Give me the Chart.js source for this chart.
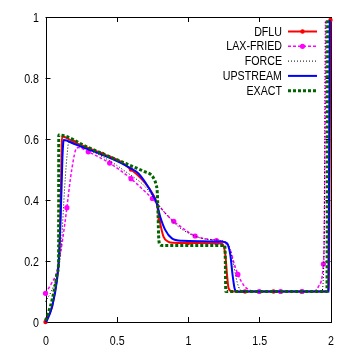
<!DOCTYPE html>
<html>
<head>
<meta charset="utf-8">
<script src="https://cdn.jsdelivr.net/npm/chart.js@4.4.0/dist/chart.umd.min.js"></script>
<style>
  html, body { margin: 0; padding: 0; background: #fff; }
  #wrap { width: 354px; height: 354px; }
</style>
</head>
<body>
<div id="wrap"><canvas id="chart"></canvas></div>
<script>
// Riemann problem: numerical schemes vs exact solution

// Axis ticks
const xTicks = [0, 0.5, 1, 1.5, 2];
const yTicks = [0, 0.2, 0.4, 0.6, 0.8, 1];

// DFLU (markers every 0.2)
const dfluX = [0, 0.02, 0.046, 0.07, 0.085, 0.095, 0.103, 0.109, 0.113, 0.116, 0.2, 0.3, 0.4, 0.512, 0.6, 0.65, 0.7, 0.746, 0.78, 0.8, 0.828, 0.863, 0.9, 1.0, 1.2, 1.24, 1.262, 1.274, 1.285, 1.309, 1.4, 1.6, 1.8, 1.985, 1.99, 1.995, 2.0];
const dfluY = [0, 0.02, 0.05, 0.11, 0.16, 0.21, 0.32, 0.45, 0.56, 0.608, 0.59, 0.571, 0.551, 0.53, 0.5, 0.48, 0.455, 0.425, 0.39, 0.335, 0.28, 0.263, 0.26, 0.259, 0.258, 0.257, 0.22, 0.154, 0.11, 0.1, 0.1, 0.1, 0.1, 0.1, 0.2, 0.6, 0.99];

// LAX-FRIED (markers every 0.15)
const laxX = [0, 0.04, 0.08, 0.11, 0.135, 0.15, 0.175, 0.195, 0.21, 0.23, 0.3, 0.45, 0.6, 0.65, 0.7, 0.75, 0.78, 0.85, 0.9, 0.98, 1.05, 1.17, 1.2, 1.25, 1.275, 1.3, 1.32, 1.35, 1.39, 1.43, 1.5, 1.65, 1.8, 1.88, 1.915, 1.95, 1.955, 1.96, 1.968];
const laxY = [0.094, 0.125, 0.165, 0.24, 0.32, 0.375, 0.47, 0.53, 0.562, 0.572, 0.558, 0.521, 0.47, 0.449, 0.427, 0.405, 0.39, 0.352, 0.33, 0.302, 0.282, 0.269, 0.267, 0.263, 0.252, 0.232, 0.198, 0.156, 0.121, 0.105, 0.1, 0.1, 0.1, 0.1, 0.116, 0.19, 0.26, 0.5, 0.99];

// FORCE
const forceX = [0, 0.04, 0.08, 0.1, 0.115, 0.128, 0.14, 0.152, 0.163, 0.2, 0.3, 0.4, 0.489, 0.55, 0.63, 0.688, 0.74, 0.793, 0.863, 0.934, 1.004, 1.098, 1.239, 1.26, 1.285, 1.32, 1.344, 1.367, 1.4, 1.938, 1.95, 1.958, 1.963];
const forceY = [0.067, 0.1, 0.15, 0.2, 0.28, 0.39, 0.48, 0.55, 0.59, 0.584, 0.565, 0.542, 0.517, 0.497, 0.471, 0.449, 0.42, 0.384, 0.345, 0.312, 0.291, 0.274, 0.266, 0.262, 0.252, 0.187, 0.132, 0.105, 0.1, 0.1, 0.15, 0.4, 0.99];

// UPSTREAM
const upX = [0, 0.01, 0.046, 0.081, 0.093, 0.103, 0.112, 0.119, 0.124, 0.128, 0.2, 0.3, 0.4, 0.535, 0.6, 0.652, 0.7, 0.746, 0.78, 0.805, 0.84, 0.887, 0.957, 1.1, 1.239, 1.274, 1.297, 1.313, 1.327, 1.344, 1.4, 1.985, 1.99, 1.995];
const upY = [0, 0.005, 0.05, 0.138, 0.2, 0.3, 0.43, 0.54, 0.585, 0.597, 0.584, 0.566, 0.548, 0.52, 0.503, 0.487, 0.458, 0.422, 0.39, 0.345, 0.302, 0.274, 0.266, 0.265, 0.263, 0.258, 0.22, 0.154, 0.11, 0.099, 0.1, 0.1, 0.5, 0.99];

// EXACT
const exactX = [0, 0.02, 0.046, 0.07, 0.085, 0.092, 0.093, 0.3, 0.5, 0.7, 0.74, 0.758, 0.775, 0.785, 0.79, 0.795, 0.805, 0.82, 1.258, 1.262, 1.265, 1.975, 1.978, 1.98];
const exactY = [0.005, 0.03, 0.072, 0.125, 0.165, 0.2, 0.613, 0.572, 0.532, 0.492, 0.483, 0.472, 0.452, 0.42, 0.35, 0.27, 0.253, 0.251, 0.251, 0.2, 0.1, 0.1, 0.5, 0.99];

const FONT = "13px 'Liberation Sans', Arial, sans-serif";
const SQUEEZE = 0.82;   // gnuplot's narrow helvetica

function toPoints(xs, ys) {
  return xs.map((x, i) => ({ x: x, y: ys[i] }));
}

// marker only on every `step` of x
function markEvery(step, r) {
  return ctx => {
    const raw = ctx.raw;
    if (!raw) return 0;
    const k = raw.x / step;
    return Math.abs(k - Math.round(k)) < 1e-6 ? r : 0;
  };
}

// draw text squeezed horizontally, anchored at (x, y)
function narrowText(ctx, str, x, y, align) {
  ctx.save();
  ctx.translate(x, y);
  ctx.scale(SQUEEZE, 1);
  ctx.textAlign = align;
  ctx.fillText(str, 0, 0);
  ctx.restore();
}

const series = [
  { label: 'DFLU', data: toPoints(dfluX, dfluY), color: '#ff0000', width: 2, dash: [], mark: markEvery(0.2, 2.2), markR: 2.2, order: 5 },
  { label: 'LAX-FRIED', data: toPoints(laxX, laxY), color: '#ff00ff', width: 1.5, dash: [3, 2], mark: markEvery(0.15, 2.6), markR: 2.6, order: 4 },
  { label: 'FORCE', data: toPoints(forceX, forceY), color: '#000000', width: 1, dash: [1, 2], mark: 0, markR: 0, order: 3 },
  { label: 'UPSTREAM', data: toPoints(upX, upY), color: '#0000ff', width: 2, dash: [], mark: 0, markR: 0, order: 2 },
  { label: 'EXACT', data: toPoints(exactX, exactY), color: '#006400', width: 3, dash: [3, 2], mark: 0, markR: 0, order: 1 }
];

// Frame, inward ticks on all sides, tick labels
const framePlugin = {
  id: 'framePlugin',
  beforeDatasetsDraw(chart) {
    const { ctx, chartArea: a, scales } = chart;
    ctx.save();
    ctx.strokeStyle = '#000';
    ctx.lineWidth = 1;
    ctx.beginPath();
    xTicks.forEach(v => {
      const px = Math.round(scales.x.getPixelForValue(v)) + 0.5;
      ctx.moveTo(px, a.bottom); ctx.lineTo(px, a.bottom - 5);
      ctx.moveTo(px, a.top); ctx.lineTo(px, a.top + 5);
    });
    yTicks.forEach(v => {
      const py = Math.round(scales.y.getPixelForValue(v)) + 0.5;
      ctx.moveTo(a.left, py); ctx.lineTo(a.left + 5, py);
      ctx.moveTo(a.right, py); ctx.lineTo(a.right - 5, py);
    });
    ctx.stroke();
    ctx.strokeRect(Math.round(a.left) + 0.5, Math.round(a.top) + 0.5,
      Math.round(a.right - a.left), Math.round(a.bottom - a.top));

    ctx.fillStyle = '#000';
    ctx.font = FONT;
    ctx.textBaseline = 'middle';
    yTicks.forEach(v => {
      narrowText(ctx, String(v), a.left - 6.5, scales.y.getPixelForValue(v) + 1.5, 'right');
    });
    ctx.textBaseline = 'alphabetic';
    xTicks.forEach(v => {
      narrowText(ctx, String(v), scales.x.getPixelForValue(v) + 0.5, a.bottom + 22.5, 'center');
    });
    ctx.restore();
  }
};

// Legend: right aligned text with line sample to its right
const keyPlugin = {
  id: 'keyPlugin',
  afterDatasetsDraw(chart) {
    const ctx = chart.ctx;
    const textRight = 282;
    const x0 = 288, x1 = 317;
    ctx.save();
    ctx.font = FONT;
    ctx.textBaseline = 'middle';
    series.forEach((s, i) => {
      const y = 31.5 + i * 14.8;
      ctx.fillStyle = '#000';
      narrowText(ctx, s.label, textRight, y + 0.5, 'right');
      ctx.strokeStyle = s.color;
      ctx.lineWidth = s.width;
      ctx.setLineDash(s.dash);
      ctx.beginPath();
      ctx.moveTo(x0, y); ctx.lineTo(x1, y);
      ctx.stroke();
      ctx.setLineDash([]);
      if (s.markR) {
        ctx.fillStyle = s.color;
        ctx.beginPath();
        ctx.arc((x0 + x1) / 2, y, s.markR, 0, Math.PI * 2);
        ctx.fill();
      }
    });
    ctx.restore();
  }
};

new Chart(document.getElementById('chart'), {
  type: 'line',
  data: {
    datasets: series.map(s => ({
      label: s.label,
      data: s.data,
      borderColor: s.color,
      backgroundColor: s.color,
      borderWidth: s.width,
      borderDash: s.dash,
      pointRadius: s.mark,
      pointBorderWidth: 0,
      pointHoverRadius: 0,
      cubicInterpolationMode: 'monotone',
      fill: false,
      order: s.order,
      clip: false
    }))
  },
  options: {
    responsive: true,
    maintainAspectRatio: false,
    animation: false,
    layout: { padding: { top: 17, right: 23.5, left: 0, bottom: 0 } },
    plugins: {
      legend: { display: false },
      tooltip: { enabled: false }
    },
    scales: {
      x: {
        type: 'linear',
        min: 0,
        max: 2,
        grid: { display: false, drawTicks: false },
        border: { display: false },
        afterFit: s => { s.height = 32; },
        ticks: { display: false }
      },
      y: {
        type: 'linear',
        min: 0,
        max: 1,
        grid: { display: false, drawTicks: false },
        border: { display: false },
        afterFit: s => { s.width = 45.5; },
        ticks: { display: false }
      }
    }
  },
  plugins: [framePlugin, keyPlugin]
});
</script>
</body>
</html>
